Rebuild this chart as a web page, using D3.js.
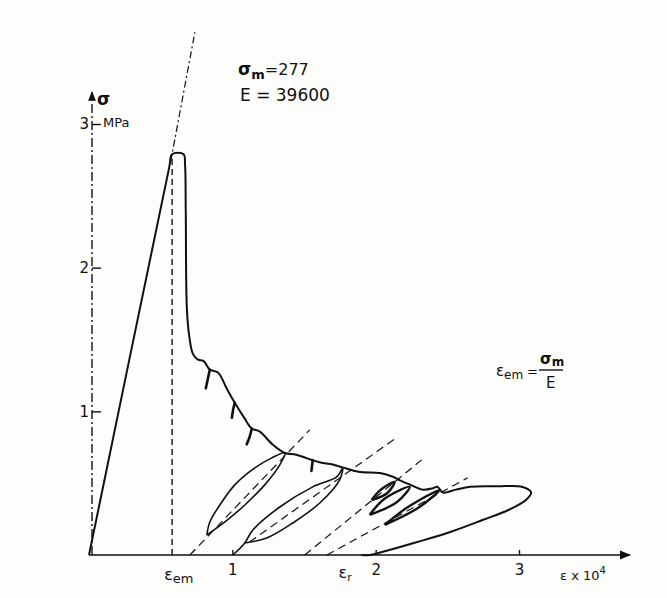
<!DOCTYPE html>
<html>
<head>
<meta charset="utf-8">
<script src="https://cdn.jsdelivr.net/npm/d3@7"></script>
<style>
body { margin: 0; background: #fdfdfb; }
svg { display: block; }
text { font-family: "DejaVu Sans", sans-serif; fill: #111; }
</style>
</head>
<body>
<svg width="667" height="598"></svg>
<script>
// strain (x 10^4) / stress (MPa)
var xTicks = [1, 2, 3];
var yTicks = [1, 2, 3];
var sigmaM = 2.77;
var epsEm = 0.58;
var epsR = 1.79;

// envelope: loading, peak, softening branch, last big loop
var envelope = [
  [0, 0], [0.56, 2.70], [0.58, 2.79], [0.66, 2.79], [0.67, 2.72], [0.675, 2.40],
  [0.683, 1.71], [0.70, 1.52], [0.725, 1.40], [0.76, 1.36], [0.80, 1.35],
  [0.843, 1.29], [0.90, 1.27], [0.96, 1.16], [1.017, 1.06], [1.08, 0.96],
  [1.136, 0.88], [1.19, 0.86], [1.28, 0.77], [1.366, 0.71], [1.44, 0.70],
  [1.50, 0.68], [1.561, 0.66], [1.63, 0.64], [1.70, 0.63], [1.77, 0.61],
  [1.88, 0.58], [2.03, 0.57], [2.12, 0.545], [2.17, 0.52], [2.24, 0.49],
  [2.33, 0.455], [2.40, 0.465], [2.43, 0.475], [2.47, 0.435], [2.56, 0.455],
  [2.66, 0.475], [2.85, 0.478], [3.02, 0.475], [3.085, 0.435], [3.05, 0.385],
  [2.93, 0.315], [2.75, 0.245], [2.52, 0.16], [2.29, 0.09], [2.05, 0.022],
  [1.96, 0], [1.9, 0]
];

// small unloading hooks hanging off the softening branch
var hooks = [
  [[0.843, 1.29], [0.83, 1.23], [0.815, 1.16]],
  [[1.017, 1.06], [1.005, 1.01], [0.997, 0.955]],
  [[1.136, 0.88], [1.12, 0.82], [1.10, 0.77]],
  [[1.561, 0.66], [1.556, 0.62], [1.552, 0.585]]
];

// unloading / reloading loops
var loops = [
  [[0.822, 0.139], [0.843, 0.23], [0.913, 0.348], [1.017, 0.488], [1.157, 0.606], [1.275, 0.676], [1.366, 0.711],
   [1.331, 0.627], [1.226, 0.488], [1.087, 0.348], [0.948, 0.23], [0.822, 0.139]],
  [[1.003, 0], [1.087, 0.084], [1.143, 0.174], [1.331, 0.334], [1.561, 0.474], [1.728, 0.544], [1.77, 0.606],
   [1.749, 0.523], [1.61, 0.362], [1.422, 0.223], [1.24, 0.118], [1.087, 0.084]],
  [[1.972, 0.383], [2.03, 0.45], [2.132, 0.509], [2.08, 0.43], [1.972, 0.383]],
  [[1.958, 0.279], [2.06, 0.39], [2.237, 0.474], [2.15, 0.37], [1.958, 0.279]],
  [[2.063, 0.209], [2.22, 0.33], [2.446, 0.453], [2.30, 0.33], [2.063, 0.209]]
];

// dashed reloading directions
var dashes = [
  [[0.704, 0], [1.54, 0.871]],
  [[1.12, 0.09], [2.153, 0.822]],
  [[1.505, 0], [2.321, 0.662]],
  [[1.659, 0], [2.641, 0.537]]
];
var elastic = [[0.57, 2.74], [0.739, 3.64]];

var svg = d3.select("svg");
var x = d3.scaleLinear().domain([0, 3]).range([89, 519]);
var y = d3.scaleLinear().domain([0, 3]).range([555, 124]);

var line = d3.line().x(function(d) { return x(d[0]); }).y(function(d) { return y(d[1]); });
var smooth = d3.line().curve(d3.curveCatmullRom.alpha(0.5))
  .x(function(d) { return x(d[0]); }).y(function(d) { return y(d[1]); });

svg.append("defs").append("marker")
  .attr("id", "arr").attr("viewBox", "0 0 10 10").attr("refX", 9).attr("refY", 5)
  .attr("markerWidth", 7).attr("markerHeight", 7).attr("orient", "auto")
  .append("path").attr("d", "M0,1L10,5L0,9Z").attr("fill", "#111");

// x axis
svg.append("line").attr("x1", x(0)).attr("y1", y(0)).attr("x2", 630).attr("y2", y(0))
  .attr("stroke", "#111").attr("stroke-width", 1.6).attr("marker-end", "url(#arr)");
var gx = svg.append("g").attr("transform", "translate(0," + y(0) + ")")
  .call(d3.axisBottom(x).tickValues(xTicks).tickSizeInner(-5).tickSizeOuter(0).tickPadding(9).tickFormat(d3.format("d")));
gx.select(".domain").remove();
gx.selectAll("line").attr("stroke", "#111").attr("stroke-width", 1.4);
gx.selectAll("text").attr("font-size", 15).attr("fill", "#111");

// y axis (dash-dot)
svg.append("line").attr("x1", 92).attr("y1", y(0)).attr("x2", 92).attr("y2", 92)
  .attr("stroke", "#111").attr("stroke-width", 1.4).attr("stroke-dasharray", "9,3,2,3")
  .attr("marker-end", "url(#arr)");
var gy = svg.append("g").attr("transform", "translate(92,0)")
  .call(d3.axisLeft(y).tickValues(yTicks).tickSizeInner(-9).tickSizeOuter(0).tickPadding(3).tickFormat(d3.format("d")));
gy.select(".domain").remove();
gy.selectAll("line").attr("stroke", "#111").attr("stroke-width", 1.4);
gy.selectAll("text").attr("font-size", 15).attr("fill", "#111");

svg.append("text").attr("x", 97).attr("y", 105).attr("font-size", 17).attr("font-weight", "bold").text("σ");
svg.append("text").attr("x", 103).attr("y", 127).attr("font-size", 13).text("MPa");

// guides
svg.append("path").attr("d", line(elastic)).attr("fill", "none").attr("stroke", "#111")
  .attr("stroke-width", 1.2).attr("stroke-dasharray", "7,3,2,3");
svg.append("path").attr("d", line([[epsEm, 0], [epsEm, sigmaM]])).attr("fill", "none")
  .attr("stroke", "#111").attr("stroke-width", 1.4).attr("stroke-dasharray", "6,4");
svg.selectAll(".dash").data(dashes).enter().append("path").attr("class", "dash")
  .attr("d", line).attr("fill", "none").attr("stroke", "#111")
  .attr("stroke-width", 1.2).attr("stroke-dasharray", "8,5");

// curves
svg.append("path").attr("d", smooth(envelope)).attr("fill", "none").attr("stroke", "#111")
  .attr("stroke-width", 2).attr("stroke-linejoin", "round");
svg.selectAll(".hook").data(hooks).enter().append("path").attr("class", "hook")
  .attr("d", smooth).attr("fill", "none").attr("stroke", "#111").attr("stroke-width", 2.6)
  .attr("stroke-linecap", "round");
svg.selectAll(".loop").data(loops).enter().append("path").attr("class", "loop")
  .attr("d", smooth).attr("fill", "none").attr("stroke", "#111")
  .attr("stroke-width", function(d, i) { return i > 1 ? 2.4 : 1.6; });

// x labels
var em = svg.append("text").attr("x", x(epsEm) - 8).attr("y", 580).attr("font-size", 16);
em.append("tspan").text("ε");
em.append("tspan").attr("font-size", 13).attr("dy", 3).text("em");
var er = svg.append("text").attr("x", x(epsR) - 7).attr("y", 578).attr("font-size", 16);
er.append("tspan").text("ε");
er.append("tspan").attr("font-size", 11).attr("dy", 3).text("r");
var ex = svg.append("text").attr("x", 560).attr("y", 580).attr("font-size", 13);
ex.append("tspan").text("ε x 10");
ex.append("tspan").attr("font-size", 10).attr("dy", -6).text("4");

// annotations
var t1 = svg.append("text").attr("x", 238).attr("y", 75).attr("font-size", 17).attr("font-weight", "bold");
t1.append("tspan").text("σ");
t1.append("tspan").attr("font-size", 13).attr("dy", 4).text("m");
t1.append("tspan").attr("font-size", 16).attr("font-weight", "normal").attr("dy", -4).text("=277");
svg.append("text").attr("x", 240).attr("y", 101).attr("font-size", 17).text("E = 39600");

var f = svg.append("text").attr("x", 496).attr("y", 376).attr("font-size", 15);
f.append("tspan").text("ε");
f.append("tspan").attr("font-size", 12).attr("dy", 3).text("em");
svg.append("text").attr("x", 527).attr("y", 376).attr("font-size", 13).text("=");
var num = svg.append("text").attr("x", 540).attr("y", 364).attr("font-size", 15).attr("font-weight", "bold");
num.append("tspan").text("σ");
num.append("tspan").attr("font-size", 12).attr("dy", 2).text("m");
svg.append("line").attr("x1", 539).attr("x2", 563).attr("y1", 370).attr("y2", 370)
  .attr("stroke", "#111").attr("stroke-width", 1.4);
svg.append("text").attr("x", 546).attr("y", 388).attr("font-size", 15).text("E");
</script>
</body>
</html>
